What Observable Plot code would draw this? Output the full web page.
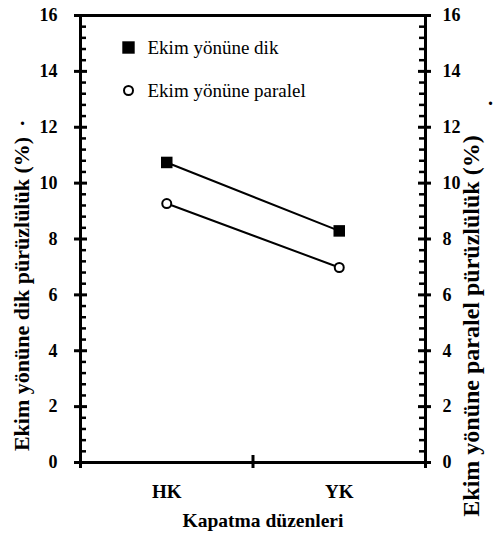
<!DOCTYPE html>
<html><head><meta charset="utf-8">
<script src="https://cdn.jsdelivr.net/npm/d3@7"></script>
<script src="https://cdn.jsdelivr.net/npm/@observablehq/plot@0.6"></script>
<style>
body{margin:0;background:#fff;font-family:'Liberation Serif',serif;}
#chart svg text{font-family:'Liberation Serif',serif;}
</style>
</head><body><div id="chart"></div><div id="spacer" style="position:absolute;left:0;top:0;width:1px;height:1px;overflow:hidden;color:#fff;font-size:1px">&nbsp;</div>
<script>
const categories = ["HK", "YK"];
const dikValues = [10.74, 8.29];
const paralelValues = [9.27, 6.98];
const seriesNames = ["Ekim yönüne dik", "Ekim yönüne paralel"];
const yTicks = [0, 2, 4, 6, 8, 10, 12, 14, 16];
const yMinorTicks = d3.range(0, 41).filter(i => i % 5 !== 0).map(i => i * 0.4);
const xLabel = "Kapatma düzenleri";
const yLabelLeft = "Ekim yönüne dik pürüzlülük (%)";
const yLabelRight = "Ekim yönüne paralel pürüzlülük (%)";

const W = 493, H = 536, ML = 80, MR = 68, MT = 15, MB = 74;
const PW = W - ML - MR, PH = H - MT - MB;
const FF = "Liberation Serif";
const rows = categories.map((cat, i) => ({cat, dik: dikValues[i], paralel: paralelValues[i]}));
const xPos = d => categories.indexOf(d.cat) + 0.5;

const chart = Plot.plot({
  width: W, height: H,
  marginLeft: ML, marginRight: MR, marginTop: MT, marginBottom: MB,
  style: {fontFamily: FF, background: "#fff"},
  x: {type: "linear", domain: [0, categories.length]},
  y: {domain: [0, 16]},
  marks: [
    Plot.frame({stroke: "#000", strokeWidth: 3}),
    Plot.tickY(yTicks, {y: d => d, insetRight: PW - 13, dx: -6, stroke: "#000", strokeWidth: 3}),
    Plot.tickY(yMinorTicks, {y: d => d, insetRight: PW - 6, stroke: "#000", strokeWidth: 2.5}),
    Plot.tickY(yTicks, {y: d => d, insetLeft: PW - 13, dx: 6, stroke: "#000", strokeWidth: 3}),
    Plot.tickY(yMinorTicks, {y: d => d, insetLeft: PW - 6, stroke: "#000", strokeWidth: 2.5}),
    Plot.tickX(d3.range(categories.length + 1), {x: d => d, insetTop: PH - 13, dy: 6, stroke: "#000", strokeWidth: 3}),
    Plot.axisY({anchor: "left", ticks: yTicks, tickSize: 0, tickPadding: 23, fontSize: 18, fontWeight: "bold", fontFamily: FF, label: null}),
    Plot.axisY({anchor: "right", ticks: yTicks, tickSize: 0, tickPadding: 17, fontSize: 18, fontWeight: "bold", fontFamily: FF, label: null}),
    Plot.axisX({anchor: "bottom", ticks: categories.map((c, i) => i + 0.5), tickFormat: v => categories[Math.floor(v)], tickSize: 0, tickPadding: 22, fontSize: 19, fontWeight: "bold", fontFamily: FF, label: null}),
    Plot.line(rows, {x: xPos, y: "dik", stroke: "#000", strokeWidth: 2}),
    Plot.line(rows, {x: xPos, y: "paralel", stroke: "#000", strokeWidth: 2}),
    Plot.dot(rows, {x: xPos, y: "dik", symbol: "square", fill: "#000", r: 6.5}),
    Plot.dot(rows, {x: xPos, y: "paralel", symbol: "circle", fill: "#fff", stroke: "#000", strokeWidth: 2, r: 4.5}),
    Plot.dot([seriesNames[0]], {frameAnchor: "top-left", dx: 48, dy: 32, symbol: "square", fill: "#000", r: 7}),
    Plot.dot([seriesNames[1]], {frameAnchor: "top-left", dx: 48, dy: 75, symbol: "circle", fill: "#fff", stroke: "#000", strokeWidth: 2, r: 4.5}),
    Plot.text([seriesNames[0]], {frameAnchor: "top-left", dx: 67, dy: 32, textAnchor: "start", lineAnchor: "middle", fontSize: 19, fontFamily: FF}),
    Plot.text([seriesNames[1]], {frameAnchor: "top-left", dx: 67, dy: 75, textAnchor: "start", lineAnchor: "middle", fontSize: 19, fontFamily: FF}),
    Plot.text([xLabel], {frameAnchor: "bottom", dx: 10, dy: 58, textAnchor: "middle", lineAnchor: "middle", fontSize: 19.5, fontWeight: "bold", fontFamily: FF}),
    Plot.text([yLabelLeft], {frameAnchor: "left", rotate: -90, dx: -59, dy: 55, textAnchor: "middle", lineAnchor: "middle", fontSize: 22, fontWeight: "bold", fontFamily: FF}),
    Plot.text([yLabelRight], {frameAnchor: "right", rotate: -90, dx: 46, dy: 87, textAnchor: "middle", lineAnchor: "middle", fontSize: 24, fontWeight: "bold", fontFamily: FF}),
    Plot.text(["."], {frameAnchor: "top-left", dx: -58, dy: 103, textAnchor: "middle", lineAnchor: "middle", fontSize: 20, fontWeight: "bold", fontFamily: FF}),
    Plot.text(["."], {frameAnchor: "top-right", dx: 65, dy: 83, textAnchor: "middle", lineAnchor: "middle", fontSize: 20, fontWeight: "bold", fontFamily: FF})
  ]
});
document.getElementById("chart").appendChild(chart);
</script>
</body></html>
